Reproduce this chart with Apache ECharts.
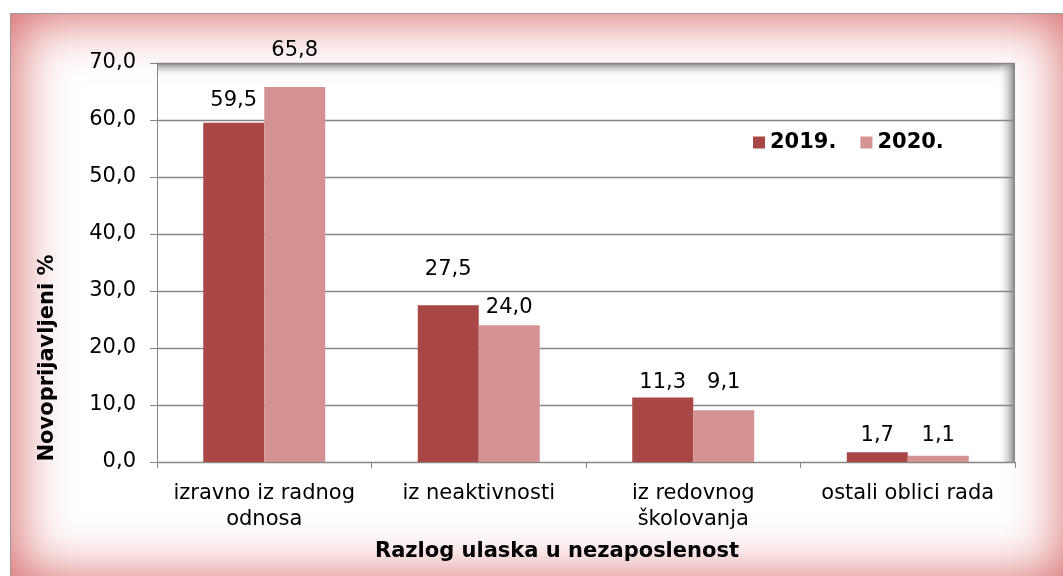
<!DOCTYPE html>
<html>
<head>
<meta charset="utf-8">
<script src="https://cdn.jsdelivr.net/npm/echarts@6/dist/echarts.min.js"></script>
<style>
  html, body { margin: 0; padding: 0; background: #fff; overflow: hidden; }
  #frame {
    position: absolute; left: 10px; top: 13px; width: 1060px; height: 570px;
    border: 1px solid #9a9a9a; box-sizing: border-box;
    box-shadow: inset 0 0 55px 4px rgba(205, 70, 70, 0.85);
    background: #fff;
  }
  #chart { position: absolute; left: 0; top: 0; width: 1063px; height: 576px; }
</style>
</head>
<body>
<div id="frame"></div>
<div id="chart"></div>
<script>
// Reasons for entering unemployment, share of new registrations (%)
const categories = ['izravno iz radnog\nodnosa', 'iz neaktivnosti', 'iz redovnog\nškolovanja', 'ostali oblici rada'];
const years = ['2019.', '2020.'];
const values2019 = [59.5, 27.5, 11.3, 1.7];
const values2020 = [65.8, 24.0, 9.1, 1.1];

// label lift above each bar (manual placement, as in the source chart)
const lift2019 = [12, 25, 5, 6];
const lift2020 = [26, 7, 17, 10];

const FONT = 'DejaVu Sans';
const fmt = (v) => v.toFixed(1).replace('.', ',');

function withLabels(values, lifts) {
  return values.map((v, i) => ({ value: v, label: { distance: lifts[i] } }));
}

const chart = echarts.init(document.getElementById('chart'), null, { renderer: 'canvas' });

const option = {
  backgroundColor: 'transparent',
  animation: false,
  textStyle: { fontFamily: FONT },
  grid: { left: 157, right: 48, top: 63, bottom: 114 },
  legend: {
    data: years,
    left: 748, top: 127,
    icon: 'rect', itemWidth: 12, itemHeight: 12, itemGap: 24,
    textStyle: { fontFamily: FONT, fontSize: 21, fontWeight: 'bold', color: '#000' },
  },
  xAxis: {
    type: 'category',
    data: categories,
    axisLine: { lineStyle: { color: '#868686', width: 1 } },
    axisTick: { show: true, length: 6, lineStyle: { color: '#868686' } },
    axisLabel: { color: '#000', fontSize: 21, lineHeight: 26, margin: 19, interval: 0 },
  },
  yAxis: {
    type: 'value', min: 0, max: 70, interval: 10,
    axisLine: { show: true, lineStyle: { color: '#868686', width: 1 } },
    axisTick: { show: true, length: 7, lineStyle: { color: '#868686' } },
    axisLabel: { color: '#000', fontSize: 21, margin: 21, formatter: fmt },
    splitLine: { lineStyle: { color: '#868686', width: 1.3 } },
  },
  graphic: [
    {
      type: 'rect', z: -1, silent: true,
      shape: { x: 157, y: 63, width: 858, height: 14 },
      style: { fill: new echarts.graphic.LinearGradient(0, 0, 0, 1, [
        { offset: 0, color: 'rgba(120,120,120,0.9)' },
        { offset: 1, color: 'rgba(255,255,255,0)' },
      ]) },
    },
    {
      type: 'rect', z: -1, silent: true,
      shape: { x: 998, y: 63, width: 17, height: 399 },
      style: { fill: new echarts.graphic.LinearGradient(0, 0, 1, 0, [
        { offset: 0, color: 'rgba(255,255,255,0)' },
        { offset: 1, color: 'rgba(120,120,120,0.95)' },
      ]) },
    },
    {
      type: 'text', left: null, x: 48, y: 358, rotation: Math.PI / 2,
      style: {
        text: 'Novoprijavljeni %', fontFamily: FONT, fontSize: 21, fontWeight: 'bold',
        fill: '#000', align: 'center', verticalAlign: 'middle',
      },
    },
    {
      type: 'text', x: 557, y: 552,
      style: {
        text: 'Razlog ulaska u nezaposlenost', fontFamily: FONT, fontSize: 21, fontWeight: 'bold',
        fill: '#000', align: 'center', verticalAlign: 'middle',
      },
    },
  ],
  series: [
    {
      name: years[0], type: 'bar', barWidth: 61, barGap: '0%',
      itemStyle: { color: '#A94747' },
      label: { show: true, position: 'top', color: '#000', fontSize: 21, formatter: (p) => fmt(p.value) },
      data: withLabels(values2019, lift2019),
    },
    {
      name: years[1], type: 'bar', barWidth: 61, barGap: '0%',
      itemStyle: { color: '#D49292' },
      label: { show: true, position: 'top', color: '#000', fontSize: 21, formatter: (p) => fmt(p.value) },
      data: withLabels(values2020, lift2020),
    },
  ],
};

chart.setOption(option);
</script>
</body>
</html>
